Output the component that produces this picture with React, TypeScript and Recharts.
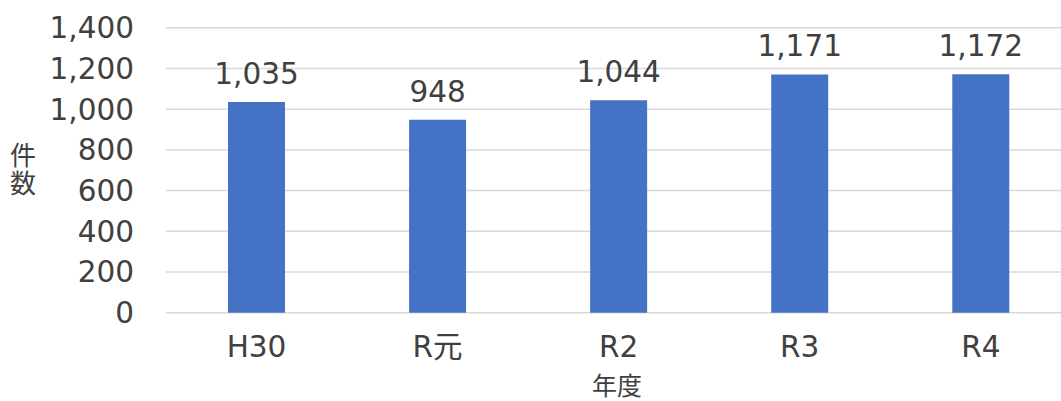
import { BarChart, Bar, XAxis, YAxis, CartesianGrid, LabelList, Label } from 'recharts';

const categories = ['H30', 'R元', 'R2', 'R3', 'R4'];
const counts = [1035, 948, 1044, 1171, 1172];
const yTicks = [0, 200, 400, 600, 800, 1000, 1200, 1400];

const data = categories.map((c, i) => ({ year: c, count: counts[i] }));

const FONT = "'DejaVu Sans', 'Noto Sans CJK JP', sans-serif";
const TEXT = '#404040';

export default function App() {
  return (
    <div style={{ position: 'absolute', left: 0, top: 0, width: 1061, height: 401, overflow: 'hidden', background: '#fff' }}>
      <BarChart width={1080} height={401} data={data} margin={{ top: 27.8, right: 8.65, left: 0, bottom: 38.3 }}>
        <CartesianGrid vertical={false} stroke="#d9d9d9" strokeWidth={1.5} />
        <XAxis
          dataKey="year"
          height={50}
          axisLine={false}
          tickLine={false}
          tickSize={0}
          tickMargin={23.5}
          tick={{ fontSize: 29.5, fill: TEXT, fontFamily: FONT }}
        >
          <Label
            content={() => (
              <text x={617} y={386} textAnchor="middle" dominantBaseline="central" fontSize={25} fill={TEXT} fontFamily={FONT}>
                年度
              </text>
            )}
          />
        </XAxis>
        <YAxis
          width={166}
          domain={[0, 1400]}
          ticks={yTicks}
          axisLine={false}
          tickLine={false}
          tickSize={0}
          tickMargin={32}
          tickFormatter={(v: number) => v.toLocaleString('en-US')}
          tick={{ fontSize: 29.5, fill: TEXT, fontFamily: FONT }}
        >
          <Label
            content={() => (
              <g>
                <text x={23} y={156} textAnchor="middle" dominantBaseline="central" fontSize={26} fill={TEXT} fontFamily={FONT}>
                  件
                </text>
                <text x={23} y={184} textAnchor="middle" dominantBaseline="central" fontSize={26} fill={TEXT} fontFamily={FONT}>
                  数
                </text>
              </g>
            )}
          />
        </YAxis>
        <Bar dataKey="count" fill="#4472C4" barSize={57} isAnimationActive={false}>
          <LabelList
            dataKey="count"
            position="top"
            offset={18}
            formatter={(v: unknown) => Number(v).toLocaleString('en-US')}
            style={{ fontSize: 29.5, fill: TEXT, fontFamily: FONT }}
          />
        </Bar>
      </BarChart>
    </div>
  );
}
